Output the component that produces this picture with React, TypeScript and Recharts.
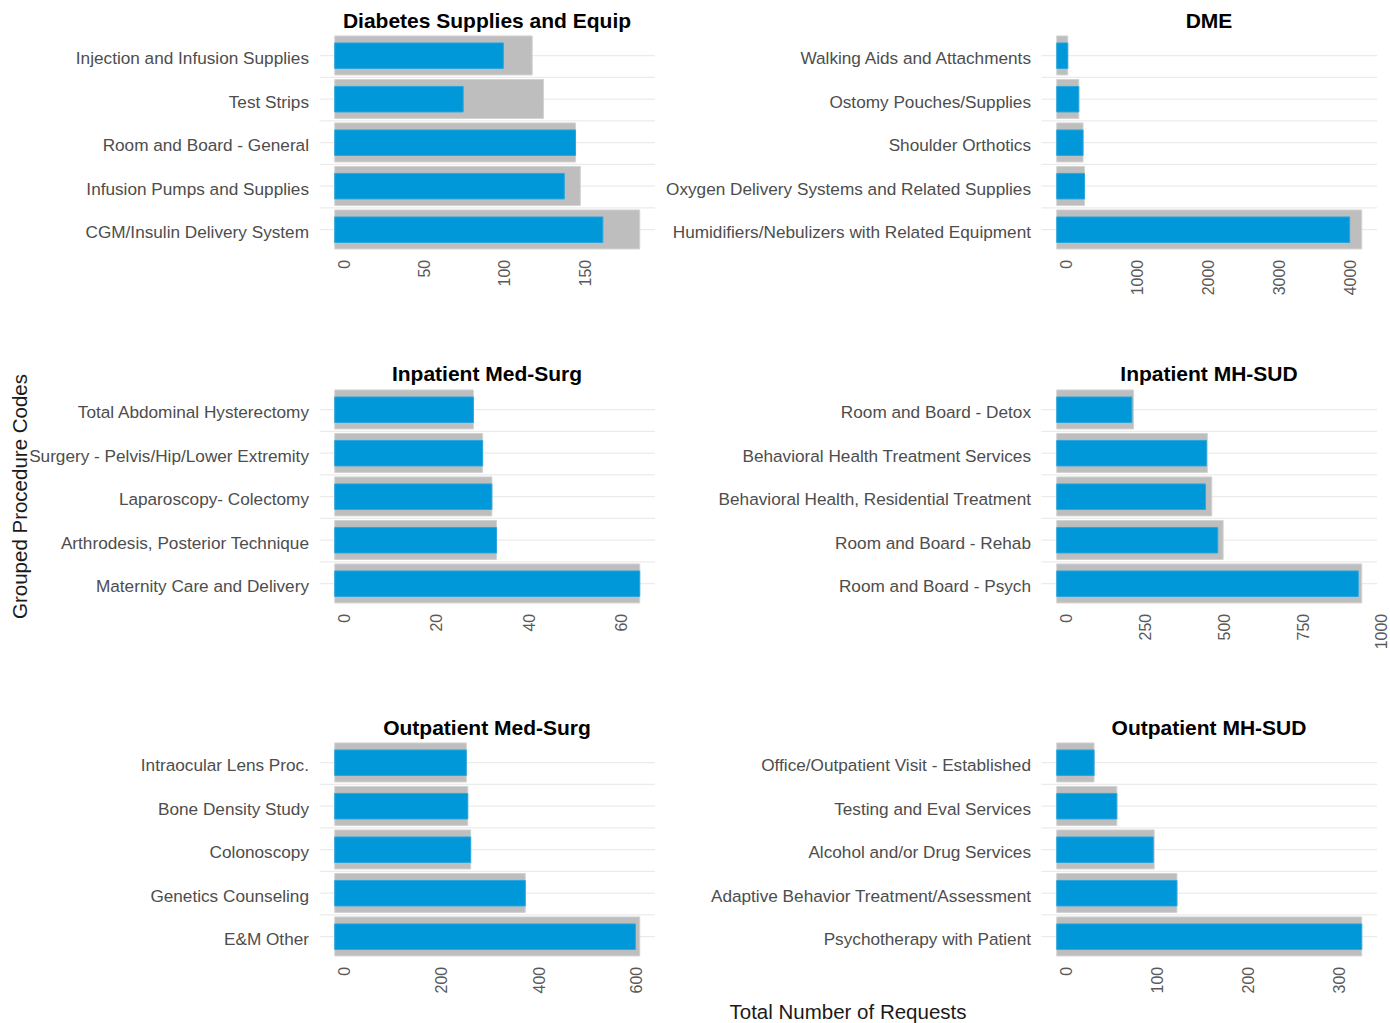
import React from "react";
import { BarChart, Bar, XAxis, YAxis, CartesianGrid } from "recharts";

// ---------- DATA ----------
const diabetesNames = [
  "Injection and Infusion Supplies",
  "Test Strips",
  "Room and Board - General",
  "Infusion Pumps and Supplies",
  "CGM/Insulin Delivery System",
];
const diabetesTotal = [123, 130, 150, 153, 190];
const diabetesApproved = [105, 80, 150, 143, 167];
const diabetesTicks = [0, 50, 100, 150];

const dmeNames = [
  "Walking Aids and Attachments",
  "Ostomy Pouches/Supplies",
  "Shoulder Orthotics",
  "Oxygen Delivery Systems and Related Supplies",
  "Humidifiers/Nebulizers with Related Equipment",
];
const dmeTotal = [155, 310, 370, 390, 4290];
const dmeApproved = [155, 310, 370, 390, 4120];
const dmeTicks = [0, 1000, 2000, 3000, 4000];

const inpMedNames = [
  "Total Abdominal Hysterectomy",
  "Surgery - Pelvis/Hip/Lower Extremity",
  "Laparoscopy- Colectomy",
  "Arthrodesis, Posterior Technique",
  "Maternity Care and Delivery",
];
const inpMedTotal = [30, 32, 34, 35, 66];
const inpMedApproved = [30, 32, 34, 35, 66];
const inpMedTicks = [0, 20, 40, 60];

const inpMhNames = [
  "Room and Board - Detox",
  "Behavioral Health Treatment Services",
  "Behavioral Health, Residential Treatment",
  "Room and Board - Rehab",
  "Room and Board - Psych",
];
const inpMhTotal = [243, 477, 491, 527, 966];
const inpMhApproved = [238, 474, 471, 510, 955];
const inpMhTicks = [0, 250, 500, 750, 1000];

const outMedNames = [
  "Intraocular Lens Proc.",
  "Bone Density Study",
  "Colonoscopy",
  "Genetics Counseling",
  "E&M Other",
];
const outMedTotal = [270, 273, 279, 391, 626];
const outMedApproved = [270, 273, 279, 391, 617];
const outMedTicks = [0, 200, 400, 600];

const outMhNames = [
  "Office/Outpatient Visit - Established",
  "Testing and Eval Services",
  "Alcohol and/or Drug Services",
  "Adaptive Behavior Treatment/Assessment",
  "Psychotherapy with Patient",
];
const outMhTotal = [41, 66, 107, 132, 335];
const outMhApproved = [41, 66, 106, 132, 335];
const outMhTicks = [0, 100, 200, 300];

const panelTitles = [
  "Diabetes Supplies and Equip",
  "DME",
  "Inpatient Med-Surg",
  "Inpatient MH-SUD",
  "Outpatient Med-Surg",
  "Outpatient MH-SUD",
];
const yAxisTitle = "Grouped Procedure Codes";
const xAxisTitle = "Total Number of Requests";

const panels = [
  { title: panelTitles[0], names: diabetesNames, total: diabetesTotal, approved: diabetesApproved, ticks: diabetesTicks },
  { title: panelTitles[1], names: dmeNames, total: dmeTotal, approved: dmeApproved, ticks: dmeTicks },
  { title: panelTitles[2], names: inpMedNames, total: inpMedTotal, approved: inpMedApproved, ticks: inpMedTicks },
  { title: panelTitles[3], names: inpMhNames, total: inpMhTotal, approved: inpMhApproved, ticks: inpMhTicks },
  { title: panelTitles[4], names: outMedNames, total: outMedTotal, approved: outMedApproved, ticks: outMedTicks },
  { title: panelTitles[5], names: outMhNames, total: outMhTotal, approved: outMhApproved, ticks: outMhTicks },
];

// ---------- LAYOUT / STYLE ----------
const FONT = "'Liberation Sans', Arial, Helvetica, sans-serif";
const ROW_STEP = 353.5;
const PLOT_TOP = 29.6;
const PLOT_H = 226.2;
const XAXIS_H = 50;
const PAD = (PLOT_H * 0.1) / 5.2;
const GREY = "#bebebe";
const BLUE = "#0098d9";
const GRID = "#ebebeb";

const COLS = [
  { left: 0, width: 660, yw: 319.5, mr: 5 },
  { left: 660, width: 730, yw: 381.5, mr: 13 },
];

const CategoryTick = (props: any) => {
  const { x, y, payload } = props;
  return (
    <text
      x={x}
      y={y + 2.5}
      textAnchor="end"
      dominantBaseline="central"
      fontSize={17.2}
      fontFamily={FONT}
      fill="#4d4d4d"
    >
      {payload.value}
    </text>
  );
};

const ValueTick = (props: any) => {
  const { x, y, payload } = props;
  const tx = x + 9.5;
  return (
    <text
      x={tx}
      y={y}
      transform={`rotate(-90, ${tx}, ${y})`}
      textAnchor="end"
      dominantBaseline="central"
      fontSize={16}
      fontFamily={FONT}
      fill="#595959"
    >
      {payload.value}
    </text>
  );
};

const gridGen = (n: number) => ({ offset }: any) => {
  const top = offset.top + PAD;
  const band = (offset.height - 2 * PAD) / n;
  const ys: number[] = [];
  for (let i = 0; i < n; i++) {
    ys.push(top + band * (i + 0.5));
    if (i < n - 1) ys.push(top + band * (i + 1));
  }
  return ys;
};

function Panel({ def, col, row }: { def: any; col: number; row: number }) {
  const data = def.names.map((name: string, i: number) => ({
    name,
    total: def.total[i],
    approved: def.approved[i],
  }));
  const max = Math.max(...def.total);
  const c = COLS[col];
  return (
    <div style={{ position: "absolute", left: c.left, top: row * ROW_STEP }}>
      <BarChart
        width={c.width}
        height={PLOT_TOP + PLOT_H + XAXIS_H}
        data={data}
        layout="vertical"
        margin={{ top: PLOT_TOP, right: c.mr, bottom: 0, left: 0 }}
      >
        <CartesianGrid
          yAxisId="a"
          vertical={false}
          stroke={GRID}
          strokeWidth={1.2}
          horizontalCoordinatesGenerator={gridGen(def.names.length)}
        />
        <XAxis
          type="number"
          domain={[-0.05 * max, 1.05 * max]}
          ticks={def.ticks}
          interval={0}
          allowDataOverflow
          tick={<ValueTick />}
          tickLine={false}
          axisLine={false}
          tickSize={0}
          tickMargin={4}
          height={XAXIS_H}
        />
        <YAxis
          yAxisId="a"
          type="category"
          dataKey="name"
          width={c.yw}
          interval={0}
          tick={<CategoryTick />}
          tickLine={false}
          axisLine={false}
          tickSize={0}
          tickMargin={10.5}
          padding={{ top: PAD, bottom: PAD }}
        />
        <YAxis
          yAxisId="b"
          type="category"
          dataKey="name"
          hide
          padding={{ top: PAD, bottom: PAD }}
        />
        <Bar
          yAxisId="a"
          dataKey="total"
          fill={GREY}
          stroke="#d2d2d2"
          strokeWidth={1}
          barSize={39}
          isAnimationActive={false}
        />
        <Bar
          yAxisId="b"
          dataKey="approved"
          fill={BLUE}
          stroke="#2aa6de"
          strokeWidth={1}
          barSize={25.5}
          isAnimationActive={false}
        />
      </BarChart>
    </div>
  );
}

export default function App() {
  const titleX = [487, 1209];
  return (
    <div
      style={{
        position: "absolute",
        left: 0,
        top: 0,
        width: 1390,
        height: 1023,
        background: "#ffffff",
        overflow: "hidden",
        fontFamily: FONT,
      }}
    >
      {panels.map((p, i) => (
        <Panel key={p.title} def={p} col={i % 2} row={Math.floor(i / 2)} />
      ))}
      <svg
        width={1390}
        height={1023}
        style={{ position: "absolute", left: 0, top: 0, pointerEvents: "none" }}
      >
        {panels.map((p, i) => (
          <text
            key={p.title}
            x={titleX[i % 2]}
            y={27.5 + Math.floor(i / 2) * ROW_STEP}
            textAnchor="middle"
            fontSize={21}
            fontWeight="bold"
            fontFamily={FONT}
            fill="#000"
          >
            {p.title}
          </text>
        ))}
        <text
          x={27}
          y={496.5}
          transform="rotate(-90, 27, 496.5)"
          textAnchor="middle"
          fontSize={20.5}
          fontFamily={FONT}
          fill="#1a1a1a"
        >
          {yAxisTitle}
        </text>
        <text
          x={848}
          y={1019}
          textAnchor="middle"
          fontSize={20.5}
          fontFamily={FONT}
          fill="#1a1a1a"
        >
          {xAxisTitle}
        </text>
      </svg>
    </div>
  );
}
